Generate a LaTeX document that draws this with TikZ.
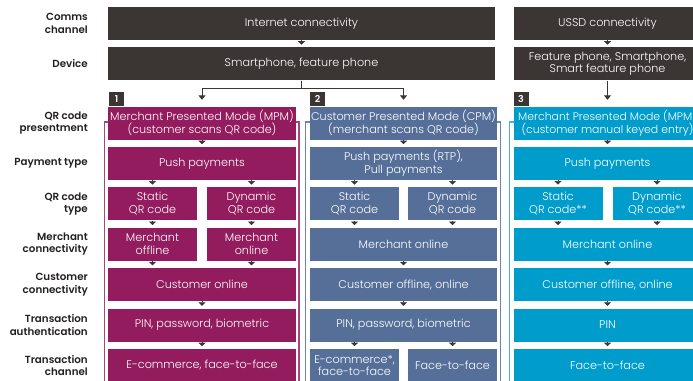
\documentclass[tikz,border=0pt]{standalone}
\usepackage{fontspec}
\setmainfont{Poppins}[UprightFont={* Light}, BoldFont={* SemiBold}]
\usetikzlibrary{positioning,arrows.meta}

\definecolor{darkbox}{HTML}{3B3534}
\definecolor{labeltext}{HTML}{231F20}
\definecolor{mpmpurple}{HTML}{931C5E}
\definecolor{cpmblue}{HTML}{566F99}
\definecolor{ussdcyan}{HTML}{009DCC}
\definecolor{mpmedge}{HTML}{A8457F}
\definecolor{cpmedge}{HTML}{6D84AA}
\definecolor{ussdedge}{HTML}{45B3DB}

\begin{document}
\begin{tikzpicture}[x=1pt, y=-1pt, node distance=7pt,
    box/.style={shape=rectangle, fill=#1, text=white, minimum width=188pt,
        minimum height=33pt, inner sep=0pt, align=center,
        font=\fontsize{11.2}{12.7}\selectfont},
    halfbox/.style={box=#1, minimum width=89pt},
    numtag/.style={shape=rectangle, fill=darkbox, text=white, anchor=south west,
        minimum width=15pt, minimum height=14pt, inner sep=0pt,
        font=\bfseries\fontsize{9.5}{9.5}\selectfont},
    rowlabel/.style={anchor=east, align=right, text=labeltext, inner sep=0pt,
        font=\bfseries\fontsize{10.3}{12.5}\selectfont},
    frame/.style={draw=#1, line width=1.5pt},
    tip/.style={draw=darkbox, line width=0.6pt,
        -{Triangle[width=7pt,length=3.5pt]}, shorten >=2.5pt},
    conn/.style={draw=darkbox, line width=1pt,
        -{Triangle[width=7pt,length=4.5pt]}, shorten >=6.5pt}]

    \useasboundingbox (0,0) rectangle (693,380);
    \clip (0,0) rectangle (693,380);

    % column frames
    \draw[frame=mpmedge] (104.5,122) rectangle (299,400);
    \draw[frame=cpmedge] (305.5,122) rectangle (500.5,400);
    \draw[frame=ussdedge] (509.5,122) rectangle (705,400);

    % channel and device
    \node[box=darkbox, minimum width=387pt] (net) at (301.5,23.5) {Internet connectivity};
    \node[box=darkbox, minimum width=387pt] (phone) [below=of net] {Smartphone, feature phone};
    \node[box=darkbox] (ussd) at (607.5,23.5) {USSD connectivity};
    \node[box=darkbox] (phone3) [below=of ussd] {Feature phone, Smartphone,\\Smart feature phone};

    % column 1: MPM
    \node[box=mpmpurple] (mpm1) at (202,123) {Merchant Presented Mode (MPM)\\(customer scans QR code)};
    \node[box=mpmpurple] (push1) [below=of mpm1] {Push payments};
    \node[halfbox=mpmpurple] (static1) [below=of push1.south west, anchor=north west] {Static\\QR code};
    \node[halfbox=mpmpurple] (dyn1) [below=of push1.south east, anchor=north east] {Dynamic\\QR code};
    \node[halfbox=mpmpurple] (offl1) [below=of static1] {Merchant\\offline};
    \node[halfbox=mpmpurple] (onl1) [below=of dyn1] {Merchant\\online};
    \node[box=mpmpurple] (cust1) [below=of offl1.south west, anchor=north west] {Customer online};
    \node[box=mpmpurple] (auth1) [below=of cust1] {PIN, password, biometric};
    \node[box=mpmpurple] (chan1) [below=of auth1] {E-commerce, face-to-face};

    % column 2: CPM
    \node[box=cpmblue, minimum width=187pt] (cpm2) at (403.5,123) {Customer Presented Mode (CPM)\\(merchant scans QR code)};
    \node[box=cpmblue, minimum width=187pt] (push2) [below=of cpm2] {Push payments (RTP),\\Pull payments};
    \node[halfbox=cpmblue] (static2) [below=of push2.south west, anchor=north west] {Static\\QR code};
    \node[halfbox=cpmblue] (dyn2) [below=of push2.south east, anchor=north east] {Dynamic\\QR code};
    \node[box=cpmblue, minimum width=187pt] (merch2) [below=of static2.south west, anchor=north west] {Merchant online};
    \node[box=cpmblue, minimum width=187pt] (cust2) [below=of merch2] {Customer offline, online};
    \node[box=cpmblue, minimum width=187pt] (auth2) [below=of cust2] {PIN, password, biometric};
    \node[halfbox=cpmblue] (ecom2) [below=of auth2.south west, anchor=north west] {E-commerce*,\\face-to-face};
    \node[halfbox=cpmblue] (face2) [below=of auth2.south east, anchor=north east] {Face-to-face};

    % column 3: USSD MPM
    \node[box=ussdcyan, font=\fontsize{10.9}{12.7}\selectfont] (mpm3) at (607.5,123) {Merchant Presented Mode (MPM)\\(customer manual keyed entry)};
    \node[box=ussdcyan] (push3) [below=of mpm3] {Push payments};
    \node[halfbox=ussdcyan] (static3) [below=of push3.south west, anchor=north west] {Static\\QR code**};
    \node[halfbox=ussdcyan] (dyn3) [below=of push3.south east, anchor=north east] {Dynamic\\QR code**};
    \node[box=ussdcyan] (merch3) [below=of static3.south west, anchor=north west] {Merchant online};
    \node[box=ussdcyan] (cust3) [below=of merch3] {Customer offline, online};
    \node[box=ussdcyan] (auth3) [below=of cust3] {PIN};
    \node[box=ussdcyan] (chan3) [below=of auth3] {Face-to-face};

    % numbered tags
    \node[numtag] (tag1) at ([xshift=1pt]mpm1.north west) {1};
    \node[numtag] (tag2) at (cpm2.north west) {2};
    \node[numtag] (tag3) at (mpm3.north west) {3};

    % row labels
    \coordinate (lblx) at (88,0);
    \node[rowlabel] (lcomms) at (lblx |- net) {Comms\\channel};
    \node[rowlabel] (ldevice) at (lblx |- phone) {Device};
    \node[rowlabel] (lpresent) at (lblx |- mpm1) {QR code\\presentment};
    \node[rowlabel] (lpaytype) at (lblx |- push1) {Payment type};
    \node[rowlabel] (lqrtype) at (lblx |- static1) {QR code\\type};
    \node[rowlabel] (lmerch) at (lblx |- offl1) {Merchant\\connectivity};
    \node[rowlabel] (lcust) at (lblx |- cust1) {Customer\\connectivity};
    \node[rowlabel] (lauth) at (lblx |- auth1) {Transaction\\authentication};
    \node[rowlabel] (lchan) at (lblx |- chan1) {Transaction\\channel};

    % connectors from devices
    \draw[conn] (phone.south) -- ++(0,7.5) -| (mpm1.north);
    \draw[conn] (phone.south) -- ++(0,7.5) -| (cpm2.north);
    \draw[conn] (phone3) -- (mpm3);

    % step markers
    \draw[tip] (net) -- (phone);
    \draw[tip] (ussd) -- (phone3);
    \draw[tip] (mpm1) -- (push1);
    \draw[tip] (static1.north |- push1.south) -- (static1.north);
    \draw[tip] (dyn1.north |- push1.south) -- (dyn1.north);
    \draw[tip] (static1) -- (offl1);
    \draw[tip] (dyn1) -- (onl1);
    \draw[tip] (offl1.south) -- (offl1.south |- cust1.north);
    \draw[tip] (onl1.south) -- (onl1.south |- cust1.north);
    \draw[tip] (cust1) -- (auth1);
    \draw[tip] (auth1) -- (chan1);
    \draw[tip] (cpm2) -- (push2);
    \draw[tip] (static2.north |- push2.south) -- (static2.north);
    \draw[tip] (dyn2.north |- push2.south) -- (dyn2.north);
    \draw[tip] (static2.south) -- (static2.south |- merch2.north);
    \draw[tip] (dyn2.south) -- (dyn2.south |- merch2.north);
    \draw[tip] (merch2) -- (cust2);
    \draw[tip] (cust2) -- (auth2);
    \draw[tip] (ecom2.north |- auth2.south) -- (ecom2.north);
    \draw[tip] (face2.north |- auth2.south) -- (face2.north);
    \draw[tip] (mpm3) -- (push3);
    \draw[tip] (static3.north |- push3.south) -- (static3.north);
    \draw[tip] (dyn3.north |- push3.south) -- (dyn3.north);
    \draw[tip] (static3.south) -- (static3.south |- merch3.north);
    \draw[tip] (dyn3.south) -- (dyn3.south |- merch3.north);
    \draw[tip] (merch3) -- (cust3);
    \draw[tip] (cust3) -- (auth3);
    \draw[tip] (auth3) -- (chan3);
\end{tikzpicture}
\end{document}
